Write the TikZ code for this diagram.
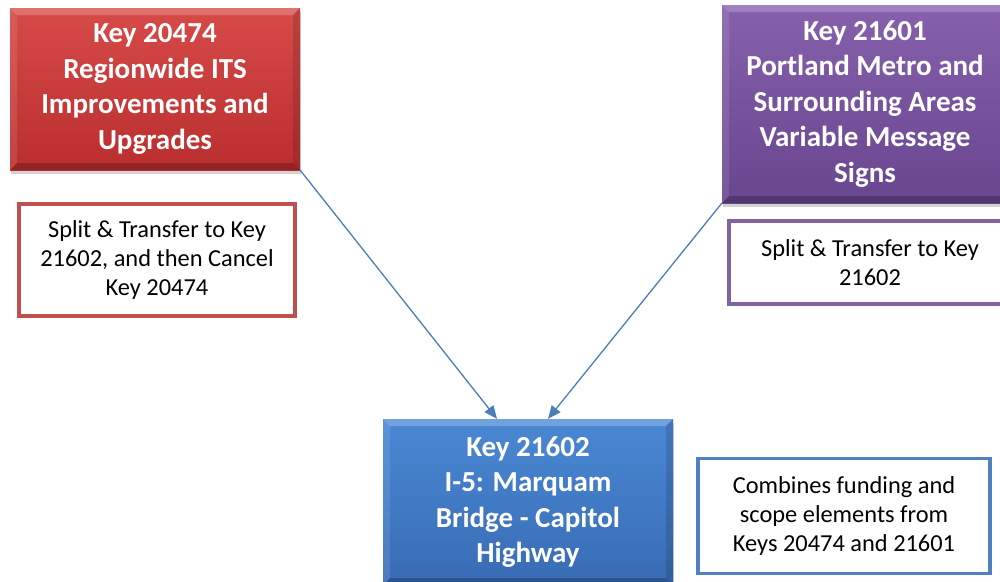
\documentclass[tikz,border=0pt]{standalone}
\usepackage{fontspec}
\setmainfont{Carlito}
\usetikzlibrary{shadows,arrows.meta}
\definecolor{redtop}{RGB}{214,74,72}
\definecolor{redbot}{RGB}{186,46,46}
\definecolor{purtop}{RGB}{134,96,172}
\definecolor{purbot}{RGB}{104,70,142}
\definecolor{blutop}{RGB}{74,136,212}
\definecolor{blubot}{RGB}{56,108,180}
\definecolor{rednote}{RGB}{192,80,77}
\definecolor{purnote}{RGB}{128,100,162}
\definecolor{blunote}{RGB}{79,129,189}
\definecolor{arrowc}{RGB}{74,126,187}
\tikzset{
  bevelbox/.style={rectangle, inner sep=0pt, text=white, align=center,
    font=\fontsize{29}{35.5}\selectfont\bfseries,
    drop shadow={opacity=0.35, shadow xshift=1pt, shadow yshift=-4pt},
    path picture={
      \fill[white,opacity=0.22] (path picture bounding box.north west) -- (path picture bounding box.north east) -- ([xshift=-7pt,yshift=-7pt]path picture bounding box.north east) -- ([xshift=7pt,yshift=-7pt]path picture bounding box.north west) -- cycle;
      \fill[white,opacity=0.10] (path picture bounding box.north west) -- ([xshift=7pt,yshift=-7pt]path picture bounding box.north west) -- ([xshift=7pt,yshift=7pt]path picture bounding box.south west) -- (path picture bounding box.south west) -- cycle;
      \fill[black,opacity=0.22] (path picture bounding box.south west) -- (path picture bounding box.south east) -- ([xshift=-7pt,yshift=7pt]path picture bounding box.south east) -- ([xshift=7pt,yshift=7pt]path picture bounding box.south west) -- cycle;
      \fill[black,opacity=0.12] (path picture bounding box.north east) -- ([xshift=-7pt,yshift=-7pt]path picture bounding box.north east) -- ([xshift=-7pt,yshift=7pt]path picture bounding box.south east) -- (path picture bounding box.south east) -- cycle;
    }},
  notebox/.style={rectangle, draw, line width=3.5pt, fill=white, inner sep=0pt,
    align=center, text=black, font=\fontsize{24.4}{29}\selectfont},
  conn/.style={draw=arrowc, line width=1.3pt, -{Triangle[length=13pt,width=11pt]}}
}
\begin{document}
\begin{tikzpicture}[x=1pt,y=-1pt]
\useasboundingbox (0,0) rectangle (1000,581);
\clip (0,0) rectangle (1000,581);
\fill[white] (0,0) rectangle (1000,581);
% main boxes
\node[bevelbox, top color=redtop, bottom color=redbot, minimum width=290pt, minimum height=162pt] (k20474) at (155,89)
  {Key 20474\\Regionwide ITS\\Improvements and\\Upgrades};
\node[bevelbox, top color=purtop, bottom color=purbot, minimum width=286pt, minimum height=198pt] (k21601) at (865,104)
  {Key 21601\\Portland Metro and\\Surrounding Areas\\Variable Message\\Signs};
\node[bevelbox, top color=blutop, bottom color=blubot, minimum width=290pt, minimum height=166pt] (k21602) at (528,502)
  {Key 21602\\I-5: Marquam\\Bridge - Capitol\\Highway};
% notes
\node[notebox, draw=rednote, minimum width=276pt, minimum height=112pt] (n20474) at (157,260)
  {Split \& Transfer to Key\\21602, and then Cancel\\Key 20474};
\node[notebox, draw=purnote, minimum width=282pt, minimum height=83pt] (n21601) at (870,262.5)
  {Split \& Transfer to Key\\21602};
\node[notebox, draw=blunote, minimum width=292pt, minimum height=115pt] (n21602) at (844,516)
  {Combines funding and\\scope elements from\\Keys 20474 and 21601};
% connectors
\draw[conn] (k20474.south east) -- ([xshift=-31pt]k21602.north);
\draw[conn] (k21601.south west) -- ([xshift=20pt]k21602.north);
\end{tikzpicture}
\end{document}
